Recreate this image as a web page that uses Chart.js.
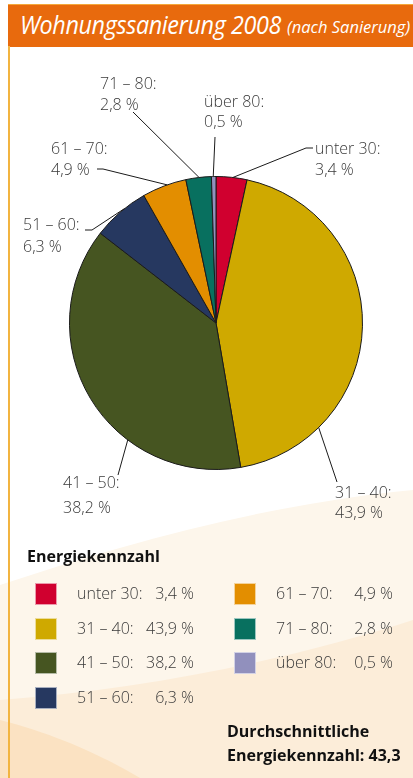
<!DOCTYPE html>
<html>
<head>
<meta charset="utf-8">
<script src="https://cdn.jsdelivr.net/npm/chart.js@4"></script>
<style>
  html, body { margin: 0; padding: 0; }
  body { width: 413px; height: 778px; position: relative; overflow: hidden; background: #fff; font-family: "Open Sans", sans-serif; color: #3a3a3a; }
  #bg { position: absolute; left: 0; top: 0; }
  #chart { position: absolute; left: 0; top: 0; }
  .bar { position: absolute; left: 8px; top: 4px; width: 420px; height: 42px; background: #e86a0d; border-top: 1px solid #f4a83a; }
  .bar span { position: absolute; white-space: nowrap; color: #fff; font-style: italic; transform-origin: left top; }
  .side { position: absolute; left: 8px; top: 46px; width: 2px; height: 740px; background: #f2b440; }
  .legtitle { position: absolute; left: 27px; top: 545px; font-weight: 700; font-size: 16px; color: #111; }
  .item { position: absolute; font-size: 16px; font-weight: 300; color: #3a3a3a; height: 23px; }
  .item .sq { position: absolute; left: 0; top: 0; width: 22px; height: 22px; border: 1px solid rgba(255,255,255,0.6); box-sizing: border-box; }
  .item .lb { position: absolute; left: 42px; top: -1px; white-space: nowrap; }
  .item .vl { position: absolute; right: 0; top: -1px; white-space: nowrap; }
  .foot { position: absolute; left: 227px; top: 719px; font-weight: 700; font-size: 16px; line-height: 24px; color: #111; white-space: nowrap; }
</style>
</head>
<body>
<svg id="bg" width="413" height="778">
  <path d="M0,585 C120,545 260,505 413,490 L413,778 L0,778 Z" fill="#fdf6eb"/>
  <path d="M0,700 C140,690 290,660 413,620 L413,778 L0,778 Z" fill="#fcedd9"/>
  <path d="M0,720 C60,735 110,760 140,778 L0,778 Z" fill="#fbe2c2"/>
</svg>
<canvas id="chart" width="413" height="778"></canvas>
<div class="bar">
  <span style="left:12px; top:2px; font-size:25px; letter-spacing:-0.4px; transform: scaleX(0.935);">Wohnungssanierung 2008</span>
  <span style="left:279px; top:10px; font-size:16.5px;">(nach Sanierung)</span>
</div>
<div class="side"></div>
<div class="legtitle">Energiekennzahl</div>
<div id="legend"></div>
<div class="foot">Durchschnittliche<br>Energiekennzahl: 43,3</div>
<script>
// Energiekennzahl-Klassen und Anteile (%)
const klassen = ['unter 30', '31 – 40', '41 – 50', '51 – 60', '61 – 70', '71 – 80', 'über 80'];
const anteile = [3.4, 43.9, 38.2, 6.3, 4.9, 2.8, 0.5];
const farben = ['#d0002f', '#cfa900', '#465521', '#263860', '#e38e00', '#08705f', '#9190bd'];

// wo die beschriftungen stehen (frac = stelle auf dem Kreisrand innerhalb des Segments)
const beschriftung = [
    { frac: 0.54, weg: [[306, 148], [313, 148]], tx: 315, ty: [154, 175] },
    { frac: 0.78, weg: [[337, 482]], tx: 335, ty: [498, 518] },
    { frac: 0.34, weg: [[118, 475]], tx: 63, ty: [488, 513] },
    { frac: 0.6, weg: [[92, 230], [85, 230]], tx: 23, ty: [230, 252] },
    { frac: 0.57, weg: [[103, 169], [97, 169]], tx: 51, ty: [154, 175] },
    { frac: 0.52, weg: [[133, 112]], tx: 100, ty: [89, 110] },
    { frac: 0.4, weg: [[215, 137]], tx: 204, ty: [107, 127] }
];

function prozent(v) {
    return v.toFixed(1).replace('.', ',') + ' %';
}

const leaderLines = {
    id: 'leaderLines',
    afterDraw(chart) {
        const ctx = chart.ctx;
        const arcs = chart.getDatasetMeta(0).data;
        ctx.save();
        arcs.forEach((arc, i) => {
            const b = beschriftung[i];
            const p = arc.getProps(['x', 'y', 'startAngle', 'endAngle', 'outerRadius'], true);
            const a = p.startAngle + b.frac * (p.endAngle - p.startAngle);
            ctx.beginPath();
            ctx.moveTo(p.x + Math.cos(a) * p.outerRadius, p.y + Math.sin(a) * p.outerRadius);
            b.weg.forEach(pt => ctx.lineTo(pt[0], pt[1]));
            ctx.strokeStyle = '#1a1a1a';
            ctx.lineWidth = 1;
            ctx.stroke();
            ctx.fillStyle = '#3a3a3a';
            ctx.font = '300 16px "Open Sans"';
            ctx.textBaseline = 'alphabetic';
            ctx.fillText(klassen[i] + ':', b.tx, b.ty[0]);
            ctx.fillText(prozent(anteile[i]), b.tx, b.ty[1]);
        });
        ctx.restore();
    }
};

const config = {
    type: 'pie',
    data: {
        labels: klassen,
        datasets: [{
            data: anteile,
            backgroundColor: farben,
            borderColor: '#1a1a1a',
            borderWidth: 1
        }]
    },
    options: {
        responsive: false,
        animation: false,
        layout: {
            padding: { top: 176, right: 50, bottom: 308, left: 69 }
        },
        plugins: {
            legend: { display: false },
            tooltip: { enabled: false }
        }
    },
    plugins: [leaderLines]
};

var chart = document.getElementById('chart');
var myChart = new Chart(chart, config);

// legende in zwei Spalten
const legend = document.getElementById('legend');
klassen.forEach((k, i) => {
    const col = i < 4 ? 0 : 1;
    const row = i < 4 ? i : i - 4;
    const d = document.createElement('div');
    d.className = 'item';
    d.style.left = (col ? 234 : 35) + 'px';
    d.style.top = (583 + row * 34.7) + 'px';
    d.style.width = '159px';
    d.innerHTML = '<div class="sq" style="background:' + farben[i] + '"></div>' +
        '<span class="lb">' + k + ':</span><span class="vl">' + prozent(anteile[i]) + '</span>';
    legend.appendChild(d);
});
</script>
</body>
</html>
